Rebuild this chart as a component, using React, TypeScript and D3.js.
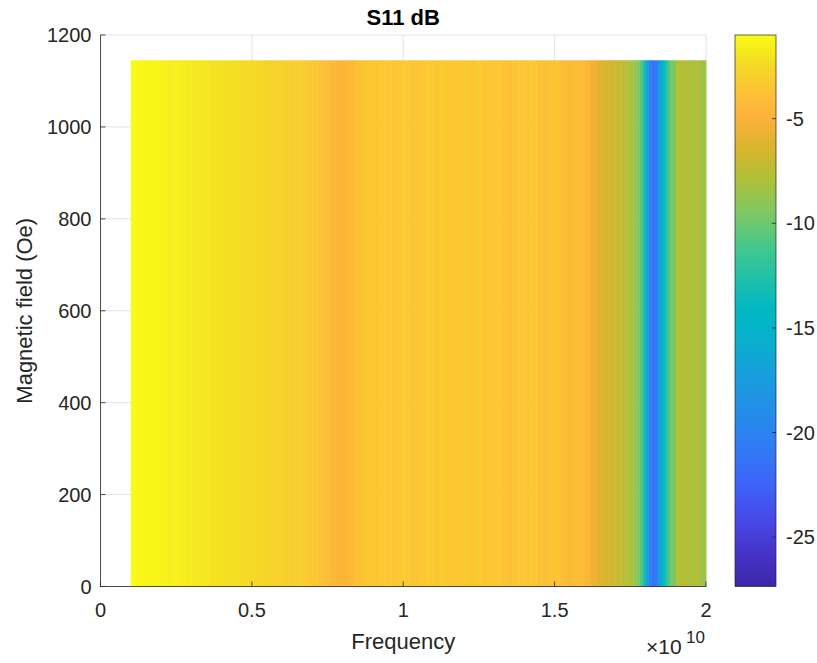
import React from "react";
import * as d3 from "d3";

// Frequency grid (GHz) - left edge of each pcolor cell
const freqGHz = [
  1.0, 1.2, 1.4, 1.6, 1.8, 2.0, 2.2, 2.4, 2.6, 2.8,
  3.0, 3.2, 3.4, 3.6, 3.8, 4.0, 4.2, 4.4, 4.6, 4.8,
  5.0, 5.2, 5.4, 5.6, 5.8, 6.0, 6.2, 6.4, 6.6, 6.8,
  7.0, 7.2, 7.4, 7.6, 7.8, 8.0, 8.2, 8.4, 8.6, 8.8,
  9.0, 9.2, 9.4, 9.6, 9.8, 10.0, 10.2, 10.4, 10.6, 10.8,
  11.0, 11.2, 11.4, 11.6, 11.8, 12.0, 12.2, 12.4, 12.6, 12.8,
  13.0, 13.2, 13.4, 13.6, 13.8, 14.0, 14.2, 14.4, 14.6, 14.8,
  15.0, 15.2, 15.4, 15.6, 15.8, 16.0, 16.2, 16.4, 16.6, 16.8,
  17.0, 17.2, 17.4, 17.6, 17.7, 17.8, 17.9, 18.0, 18.1, 18.2,
  18.3, 18.4, 18.5, 18.6, 18.7, 18.8, 19.0, 19.2, 19.4, 19.6,
  19.8,
];
const freqEndGHz = 20.0;

// S11 (dB) per frequency column (uniform over field)
const s11dB = [
  -1.05, -1.15, -1.2, -1.3, -1.35, -1.4, -1.5, -1.45, -1.6, -1.7,
  -1.75, -1.8, -1.9, -2.0, -2.0, -2.1, -2.2, -2.25, -2.35, -2.4,
  -2.5, -2.6, -2.7, -2.8, -2.85, -2.95, -3.05, -3.1, -3.2, -3.3,
  -3.5, -3.8, -4.1, -4.4, -4.6, -4.5, -4.2, -3.9, -3.6, -3.4,
  -3.5, -3.3, -3.4, -3.6, -3.4, -3.3, -3.5, -3.7, -3.4, -3.3,
  -3.5, -3.2, -3.4, -3.6, -3.4, -3.3, -3.5, -3.2, -3.5, -3.6,
  -3.4, -3.7, -3.9, -3.7, -3.4, -3.6, -3.4, -3.8, -4.0, -3.8,
  -3.7, -4.0, -4.2, -4.0, -4.1, -4.5, -5.5, -6.0, -6.4, -6.7,
  -7.1, -7.5, -8.0, -8.6, -9.4, -10.5, -12.8, -16.5, -20.0, -21.5,
  -21.0, -18.0, -15.0, -13.2, -11.3, -9.6, -7.9, -7.6, -8.0, -7.7,
  -8.6,
];

const fieldRange = [0, 1145];
const xTicks = [0, 0.5, 1, 1.5, 2]; // ×10^10 Hz
const yTicks = [0, 200, 400, 600, 800, 1000, 1200];
const cbTicks = [-25, -20, -15, -10, -5];
const colorLimits = [-27.36, -1.0];

// parula colormap control points
const parulaStops = [0, 0.06, 0.12, 0.19, 0.27, 0.36, 0.44, 0.5, 0.56, 0.62, 0.68, 0.74, 0.8, 0.85, 0.9, 0.95, 1];
const parulaColors = [
  "#3e26a8", "#4533c8", "#4848e8", "#3c66f8", "#2d80f2", "#1c98e0", "#0aaecf", "#00b8c4",
  "#20c0a8", "#48c888", "#80c860", "#b0c038", "#dcb42c", "#fcb03c", "#fcc434", "#f4dc24", "#f9fb15",
];

const FONT = "'Liberation Sans', Arial, Helvetica, sans-serif";
const TXT = "#262626";

export default function App() {
  const W = 817;
  const H = 663;
  const left = 100.5, right = 706, top = 35, bottom = 586.5;
  const x = d3.scaleLinear().domain([0, 2e10]).range([left, right]);
  const y = d3.scaleLinear().domain([0, 1200]).range([bottom, top]);
  const cmap = d3
    .scaleLinear<string>()
    .domain(parulaStops)
    .range(parulaColors)
    .interpolate(d3.interpolateRgb)
    .clamp(true);
  const norm = d3.scaleLinear().domain(colorLimits).range([0, 1]).clamp(true);
  const color = (v: number) => cmap(norm(v));

  const cbLeft = 735, cbRight = 776;
  const cy = d3.scaleLinear().domain(colorLimits).range([bottom, top]);

  return (
    <svg
      width={W}
      height={H}
      style={{ position: "absolute", left: 0, top: 0, display: "block", background: "#fff" }}
      fontFamily={FONT}
    >
      <defs>
        <linearGradient id="parula" x1="0" y1="1" x2="0" y2="0">
          {parulaStops.map((s, i) => (
            <stop key={i} offset={s} stopColor={parulaColors[i]} />
          ))}
        </linearGradient>
      </defs>
      {/* grid */}
      {xTicks.map((t) => (
        <line key={"gx" + t} x1={x(t * 1e10)} x2={x(t * 1e10)} y1={top} y2={bottom} stroke="#e3e3e3" strokeWidth={1} />
      ))}
      {yTicks.map((t) => (
        <line key={"gy" + t} x1={left} x2={right} y1={y(t)} y2={y(t)} stroke="#e3e3e3" strokeWidth={1} />
      ))}
      {/* data cells */}
      {freqGHz.map((f, i) => {
        const f1 = i + 1 < freqGHz.length ? freqGHz[i + 1] : freqEndGHz;
        const x0 = x(f * 1e9);
        const x1 = x(f1 * 1e9);
        return (
          <rect
            key={"c" + i}
            x={x0}
            y={y(fieldRange[1])}
            width={x1 - x0 + 0.4}
            height={y(fieldRange[0]) - y(fieldRange[1])}
            fill={color(s11dB[i])}
          />
        );
      })}
      {/* axes lines */}
      <line x1={left} x2={left} y1={top} y2={bottom} stroke={TXT} strokeWidth={0.8} />
      <line x1={left} x2={right} y1={bottom} y2={bottom} stroke={TXT} strokeWidth={0.8} />
      {yTicks.map((t) => (
        <g key={"yt" + t}>
          <line x1={left} x2={left + 5} y1={y(t)} y2={y(t)} stroke={TXT} strokeWidth={0.8} />
          <text x={left - 9} y={y(t)} dy="0.35em" textAnchor="end" fontSize={20} fill={TXT}>
            {t}
          </text>
        </g>
      ))}
      {xTicks.map((t) => (
        <g key={"xt" + t}>
          <line x1={x(t * 1e10)} x2={x(t * 1e10)} y1={bottom} y2={bottom - 5} stroke={TXT} strokeWidth={0.8} />
          <text x={x(t * 1e10)} y={617} textAnchor="middle" fontSize={20} fill={TXT}>
            {t}
          </text>
        </g>
      ))}
      {/* exponent */}
      <text x={646} y={654} fontSize={21} fill={TXT}>
        ×10
      </text>
      <text x={686} y={643} fontSize={17} fill={TXT}>
        10
      </text>
      {/* labels */}
      <text x={(left + right) / 2} y={649} textAnchor="middle" fontSize={22} fill={TXT}>
        Frequency
      </text>
      <text
        transform={`translate(32, ${(top + bottom) / 2}) rotate(-90)`}
        textAnchor="middle"
        fontSize={22}
        fill={TXT}
      >
        Magnetic field (Oe)
      </text>
      <text x={(left + right) / 2} y={25} textAnchor="middle" fontSize={22} fontWeight="bold" fill="#000">
        S11 dB
      </text>
      {/* colorbar */}
      <rect x={cbLeft} y={top} width={cbRight - cbLeft} height={bottom - top} fill="url(#parula)" stroke={TXT} strokeWidth={0.7} />
      {cbTicks.map((t) => (
        <g key={"cb" + t}>
          <line x1={cbRight - 4} x2={cbRight} y1={cy(t)} y2={cy(t)} stroke={TXT} strokeWidth={0.8} />
          <text x={786} y={cy(t)} dy="0.35em" fontSize={20} fill={TXT}>
            {t}
          </text>
        </g>
      ))}
    </svg>
  );
}
